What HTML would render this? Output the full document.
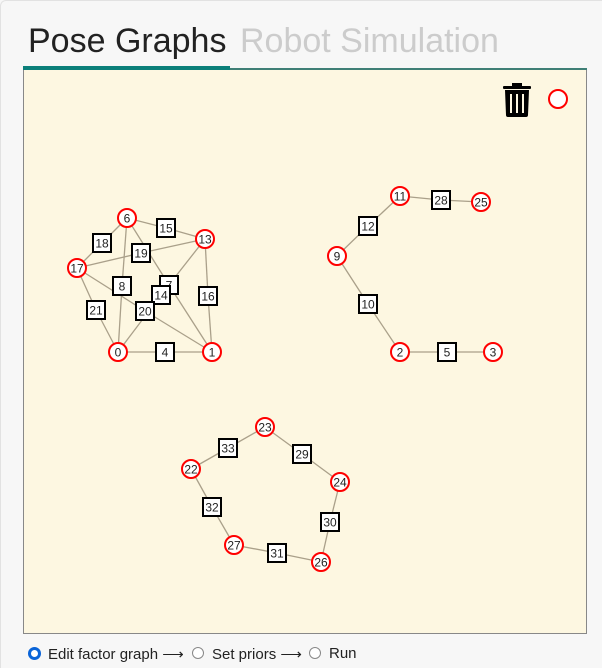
<!DOCTYPE html>
<html><head><meta charset="utf-8"><style>
body{margin:0;width:602px;height:668px;background:#f7f7f7;font-family:"Liberation Sans",sans-serif;overflow:hidden;position:relative}
#frame{position:absolute;left:0;top:0;width:601px;height:667px;border-top:1px solid #e2e2e2;border-left:1px solid #e2e2e2;border-radius:6px 0 0 0}
.tab{position:absolute;top:22px;font-size:34px}
#panel{position:absolute;left:23px;top:69px;width:562px;height:563px;background:#fdf7e1;border:1px solid #888}
#bar{position:absolute;left:23px;top:66px;width:207px;height:4px;background:#0b7f7a}
#line{position:absolute;left:23px;top:68px;width:564px;height:2px;background:#3f7f76}
.rad{position:absolute;top:645px;font-family:"Liberation Sans",sans-serif;font-size:15px;color:#222;white-space:nowrap}
.rc{position:absolute;top:647px;width:10px;height:10px;border-radius:50%;border:1.5px solid #888;background:#fff}
</style></head><body>
<div id="frame"></div>
<div class="tab" style="left:28px;color:#222">Pose Graphs</div>
<div class="tab" style="left:240px;color:#ccc">Robot Simulation</div>
<div id="panel"></div>
<div id="line"></div>
<div id="bar"></div>
<svg id="g" width="602" height="668" style="position:absolute;left:0;top:0" font-family="Liberation Sans, sans-serif">
<g fill="#000">
<rect x="503" y="86" width="28" height="3" rx="1"/><rect x="512" y="83" width="10" height="3"/>
<path d="M505 90 H529 L528 115 Q528 117 526 117 H508 Q506 117 506 115 Z"/>
<rect x="510" y="94" width="2" height="19" fill="#fdf7e1"/><rect x="516" y="94" width="2" height="19" fill="#fdf7e1"/><rect x="522" y="94" width="2" height="19" fill="#fdf7e1"/>
</g>
<circle cx="558" cy="99" r="9" fill="#fff" stroke="#f00" stroke-width="2"/>
<g id="edges"></g><g id="marks"></g>
</svg>
<div class="rc" style="left:28px;border:3px solid #0a64d8;width:7px;height:7px;top:647px"></div>
<div class="rad" style="left:48px">Edit factor graph ⟶</div>
<div class="rc" style="left:192px"></div>
<div class="rad" style="left:212px">Set priors ⟶</div>
<div class="rc" style="left:309px"></div>
<div class="rad" style="left:329px">Run</div>
<script>
const nodeIds=[0,1,6,13,17,11,25,9,2,3,23,22,24,27,26];
const nodeX=[118,212,127,205,77,400,481,337,400,493,265,191,340,234,321];
const nodeY=[352,352,218,239,268,196,202,256,352,352,427,469,482,545,562];
const factorIds=[4,18,15,19,8,7,14,16,21,20,28,12,10,5,33,29,32,30,31];
const factorA=[0,17,6,17,6,6,0,13,17,17,11,9,9,2,22,23,22,24,27];
const factorB=[1,6,13,13,0,1,13,1,0,1,25,11,2,3,23,24,27,26,26];
const factorX=[165,102,166,141,122,169,161,208,96,145,441,368,368,447,228,302,212,330,277];
const factorY=[352,243,228,253,286,285,295,296,310,311,200,226,304,352,448,454,507,522,553];
const ns="http://www.w3.org/2000/svg";
const E=document.getElementById('edges'),M=document.getElementById('marks');
function pos(id){const i=nodeIds.indexOf(id);return [nodeX[i],nodeY[i]];}
function mk(t,a){const e=document.createElementNS(ns,t);for(const k in a)e.setAttribute(k,a[k]);return e;}
factorIds.forEach((f,i)=>{[factorA[i],factorB[i]].forEach(n=>{const p=pos(n);
const l=mk('line',{x1:factorX[i],y1:factorY[i],x2:p[0],y2:p[1],stroke:'#aaa08a','stroke-width':1.3});


E.appendChild(l);});});
factorIds.forEach((f,i)=>{const g=mk('g',{});


g.appendChild(mk('rect',{x:factorX[i]-9,y:factorY[i]-9,width:18,height:18,fill:'#fff',stroke:'#000','stroke-width':2}));
const t=mk('text',{x:factorX[i],y:factorY[i]+4.5,'text-anchor':'middle','font-size':12,fill:'#222'});t.textContent=f;g.appendChild(t);M.appendChild(g);});
nodeIds.forEach((n,i)=>{const g=mk('g',{});


g.appendChild(mk('circle',{cx:nodeX[i],cy:nodeY[i],r:9,fill:'#fff',stroke:'#f00','stroke-width':2}));
const t=mk('text',{x:nodeX[i],y:nodeY[i]+4.5,'text-anchor':'middle','font-size':12,fill:'#222'});t.textContent=n;g.appendChild(t);M.appendChild(g);});
</script>
</body></html>
